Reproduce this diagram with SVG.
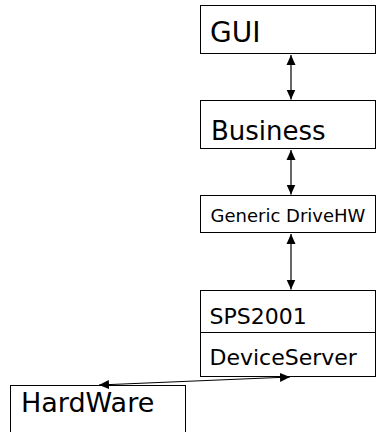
<svg xmlns="http://www.w3.org/2000/svg" width="376" height="432" viewBox="0 0 376 432">
  <style>
    .box { fill: #fff; stroke: #000; stroke-width: 1; }
    .lbl { font-family: "DejaVu Sans", Verdana, sans-serif; fill: #000; }
    .link { stroke: #000; stroke-width: 1.2; fill: none; marker-start: url(#head); marker-end: url(#head); }
  </style>
  <defs>
    <marker id="head" viewBox="0 0 10 10" refX="10" refY="5" markerWidth="10" markerHeight="10" markerUnits="userSpaceOnUse" orient="auto-start-reverse">
      <path d="M0,0.5 L10,5 L0,9.5 Z" fill="#000"/>
    </marker>
  </defs>
  <rect width="376" height="432" fill="#fff"/>

  <g id="gui">
    <rect class="box" x="200.5" y="5.5" width="175" height="48"/>
    <text class="lbl" x="210" y="41.5" font-size="28">GUI</text>
  </g>

  <g id="business">
    <rect class="box" x="200.5" y="100.5" width="175" height="48"/>
    <text class="lbl" x="211" y="139.5" font-size="26">Business</text>
  </g>

  <g id="generic-drivehw">
    <rect class="box" x="200.5" y="195.5" width="175" height="37"/>
    <text class="lbl" x="210.5" y="221.5" font-size="18">Generic DriveHW</text>
  </g>

  <g id="sps2001">
    <rect class="box" x="200.5" y="290.5" width="175" height="86"/>
    <line x1="200.5" y1="332.5" x2="375.5" y2="332.5" stroke="#000" stroke-width="1"/>
    <text class="lbl" x="209.5" y="323.5" font-size="22">SPS2001</text>
    <text class="lbl" x="209.5" y="365" font-size="22">DeviceServer</text>
  </g>

  <g id="hardware">
    <rect class="box" x="10.5" y="385.5" width="175" height="60"/>
    <text class="lbl" x="21" y="411.5" font-size="27">HardWare</text>
  </g>

  <g id="connectors">
    <line class="link" x1="291" y1="55" x2="291" y2="99.5"/>
    <line class="link" x1="291" y1="150" x2="291" y2="194.5"/>
    <line class="link" x1="291" y1="234" x2="291" y2="289.5"/>
    <line class="link" x1="99" y1="385" x2="290" y2="377"/>
  </g>
</svg>
